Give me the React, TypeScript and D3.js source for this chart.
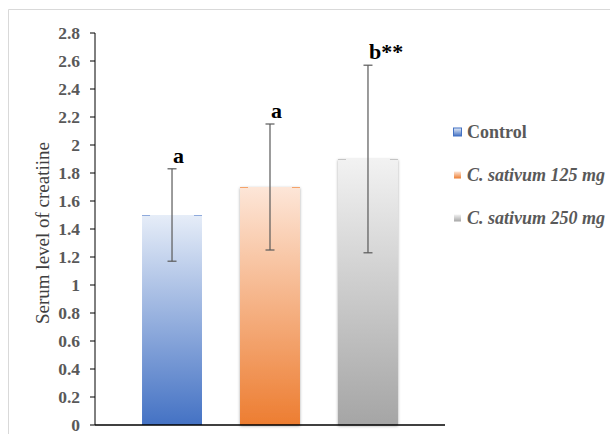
import React from "react";
import * as d3 from "d3";

const groups = ["Control", "C. sativum 125 mg", "C. sativum 250 mg"];
const means = [1.5, 1.7, 1.9];
const upper = [1.83, 2.15, 2.57];
const lower = [1.17, 1.25, 1.23];
const letters = ["a", "a", "b**"];
const yTicks = [0, 0.2, 0.4, 0.6, 0.8, 1, 1.2, 1.4, 1.6, 1.8, 2, 2.2, 2.4, 2.6, 2.8];

const topColors = ["#e6edf8", "#fde6d8", "#f2f2f2"];
const baseColors = ["#4472c4", "#ed7d31", "#a5a5a5"];
const edgeColors = ["#8faadc", "#f4a46c", "#c4c4c4"];

const W = 610;
const H = 434;
const left = 95;
const right = 445;
const top = 33;
const bottom = 425;
const serif = "'Liberation Serif', 'Times New Roman', 'DejaVu Serif', serif";

const App = () => {
  const y = d3.scaleLinear().domain([0, 2.8]).range([bottom, top]);
  const x = d3
    .scaleBand()
    .domain(groups)
    .range([left, right])
    .paddingInner(0.388)
    .paddingOuter(0.48);
  const bw = x.bandwidth();
  const tickFmt = (v: number) => d3.format("~g")(v);

  return (
    <svg
      width={W}
      height={H}
      style={{ position: "absolute", left: 0, top: 0, background: "#fff" }}
    >
      <defs>
        {groups.map((g, i) => (
          <linearGradient key={g} id={`grad${i}`} x1="0" y1="0" x2="0" y2="1">
            <stop offset="0%" stopColor={topColors[i]} />
            <stop offset="100%" stopColor={baseColors[i]} />
          </linearGradient>
        ))}
        <filter id="shadow" x="-20%" y="-5%" width="140%" height="110%">
          <feGaussianBlur in="SourceAlpha" stdDeviation="1.5" />
          <feOffset dx="0" dy="1" result="b" />
          <feComponentTransfer>
            <feFuncA type="linear" slope="0.35" />
          </feComponentTransfer>
          <feMerge>
            <feMergeNode />
            <feMergeNode in="SourceGraphic" />
          </feMerge>
        </filter>
      </defs>

      {/* chart frame */}
      <path d={`M8.5,${H} V9.5 H${W}`} fill="none" stroke="#d9d9d9" />

      {/* y axis */}
      <line x1={left} x2={left} y1={top} y2={bottom} stroke="#000" />
      {yTicks.map((t) => (
        <g key={t} transform={`translate(0,${y(t)})`}>
          <line x1={left - 5} x2={left} stroke="#000" />
          <text
            x={80}
            dy="0.35em"
            textAnchor="end"
            style={{ fontFamily: serif, fontWeight: 700, fontSize: 17.5 }}
            fill="#595959"
          >
            {tickFmt(t)}
          </text>
        </g>
      ))}
      <text
        transform={`translate(49,${(top + bottom) / 2 + 4}) rotate(-90)`}
        textAnchor="middle"
        style={{ fontFamily: serif, fontSize: 19 }}
        fill="#404040"
      >
        Serum level of creatiine
      </text>

      {/* bars */}
      {groups.map((g, i) => (
        <g key={g}>
          <rect
            x={x(g)}
            y={y(means[i])}
            width={bw}
            height={bottom - y(means[i])}
            fill={`url(#grad${i})`}
            filter={i > 0 ? "url(#shadow)" : undefined}
          />
          <line
            x1={x(g)!}
            x2={x(g)! + bw}
            y1={y(means[i]) + 0.5}
            y2={y(means[i]) + 0.5}
            stroke={edgeColors[i]}
            strokeDasharray={`8,${bw - 16},8`}
          />
        </g>
      ))}

      {/* x axis */}
      <line x1={left} x2={right} y1={bottom} y2={bottom} stroke="#000" strokeWidth={1.5} />

      {/* error bars and letters */}
      {groups.map((g, i) => {
        const cx = x(g)! + bw / 2;
        return (
          <g key={g} stroke="#595959" strokeWidth={1.2}>
            <line x1={cx} x2={cx} y1={y(upper[i])} y2={y(lower[i])} />
            <line x1={cx - 4.5} x2={cx + 4.5} y1={y(upper[i])} y2={y(upper[i])} />
            <line x1={cx - 4.5} x2={cx + 4.5} y1={y(lower[i])} y2={y(lower[i])} />
            <text
              x={cx + 1}
              y={y(upper[i]) - 6}
              stroke="none"
              fill="#000"
              style={{ fontFamily: serif, fontWeight: 700, fontSize: 22 }}
            >
              {letters[i]}
            </text>
          </g>
        );
      })}

      {/* legend */}
      {groups.map((g, i) => {
        const ly = 132 + i * 43;
        return (
          <g key={g} transform={`translate(453,${ly})`}>
            {i === 0 ? (
              <rect x={0.5} y={-4} width={8} height={8} fill={`url(#grad${i})`} stroke={baseColors[i]} />
            ) : (
              <rect x={1} y={-3.5} width={7} height={7} fill={`url(#grad${i})`} />
            )}
            <text
              x={14}
              dy="0.35em"
              style={{
                fontFamily: serif,
                fontWeight: 700,
                fontStyle: i === 0 ? "normal" : "italic",
                fontSize: 18,
              }}
              fill="#595959"
            >
              {g}
            </text>
          </g>
        );
      })}
    </svg>
  );
};

export default App;
